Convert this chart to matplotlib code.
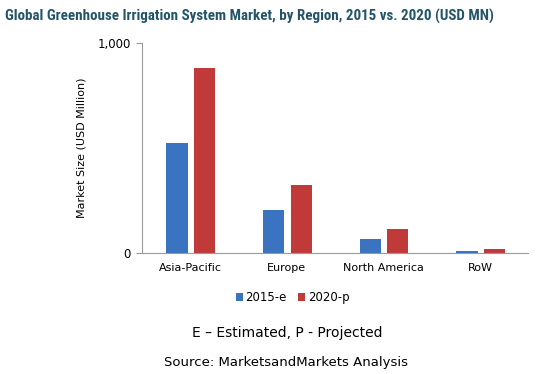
import numpy as np
import matplotlib.pyplot as plt
from matplotlib import font_manager

regions = ["Asia-Pacific", "Europe", "North America", "RoW"]
values_2015 = [522, 205, 67, 10]
values_2020 = [879, 324, 113, 18]
series_labels = ["2015-e", "2020-p"]

fig = plt.figure(figsize=(5.52, 3.74), dpi=100)
ax = fig.add_axes([0.257, 0.3235, 0.70, 0.5615])

x = np.arange(len(regions))
w = 0.22
ax.bar(x - 0.135, values_2015, w, color="#3A73BF", label=series_labels[0])
ax.bar(x + 0.15, values_2020, w, color="#C13A3A", label=series_labels[1])

ax.set_xlim(-0.5, len(regions) - 0.5)
ax.set_ylim(0, 1000)
ax.set_yticks([0, 1000])
ax.set_yticklabels(["0", "1,000"], fontsize=8.5)
ax.set_xticks(x)
ax.set_xticklabels(regions, fontsize=8)
ax.tick_params(axis="x", length=0, pad=7)
ax.tick_params(axis="y", length=4, color="#9A9A9A", pad=4)
for s in ["top", "right"]:
    ax.spines[s].set_visible(False)
for s in ["left", "bottom"]:
    ax.spines[s].set_color("#9A9A9A")
ax.set_ylabel("Market Size (USD Million)", fontsize=8, labelpad=8)

ax.legend(loc="upper center", bbox_to_anchor=(0.39, -0.13), ncol=2, frameon=False,
          fontsize=8.5, handlelength=0.6, handleheight=0.6, handletextpad=0.2,
          columnspacing=1.0)

# pick a narrow font if one exists, then fit the title to the reference width
names = {f.name for f in font_manager.fontManager.ttflist}
fam = "DejaVu Sans"
for cand in ["Liberation Sans Narrow", "DejaVu Sans Condensed", "Roboto Condensed", "Open Sans Condensed"]:
    if cand in names:
        fam = cand
        break
title = fig.text(0.009, 0.955, "Global Greenhouse Irrigation System Market, by Region, 2015 vs. 2020 (USD MN)",
                 fontsize=11, fontweight="bold", color="#235468", family=fam, va="center")
r = fig.canvas.get_renderer()
tw = title.get_window_extent(r).width
title.set_fontsize(11 * 485 / tw)

fig.text(0.52, 0.11, "E \u2013 Estimated, P - Projected", fontsize=10, ha="center", va="center")
fig.text(0.518, 0.03, "Source: MarketsandMarkets Analysis", fontsize=9.5, ha="center", va="center")

fig.savefig("out.png", dpi=100)
